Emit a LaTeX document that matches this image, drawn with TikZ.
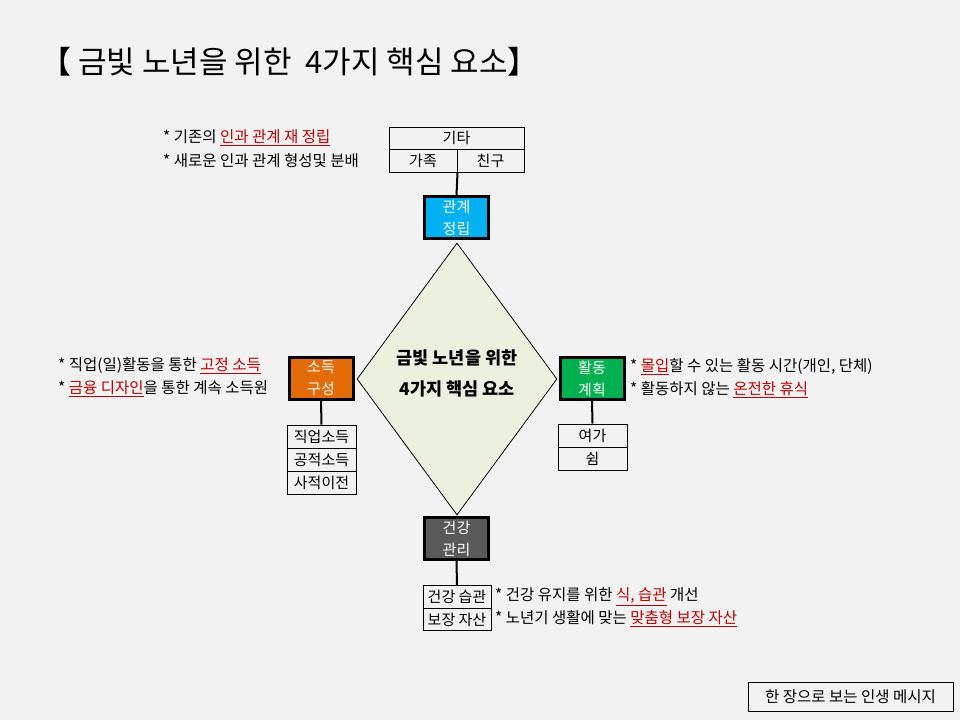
\documentclass[tikz,border=0pt]{standalone}
\usepackage{fontspec}
\setmainfont{Noto Sans CJK KR}
\usetikzlibrary{shapes.geometric}
\definecolor{bgcol}{HTML}{F2F2F2}
\definecolor{relcol}{HTML}{00B0F0}
\definecolor{inccol}{HTML}{E36C09}
\definecolor{actcol}{HTML}{00B050}
\definecolor{hlthcol}{HTML}{595959}
\definecolor{corecol}{HTML}{EBF1DE}
\definecolor{redtxt}{HTML}{C00000}
\newcommand{\redu}[1]{\textcolor{redtxt}{\underline{#1}}}
\tikzset{
  keybox/.style={draw, line width=3pt, minimum width=64pt, minimum height=42pt, inner sep=0pt,
    text=white, align=center, font=\fontsize{15}{22}\selectfont},
  cell/.style={draw, line width=1pt, minimum height=23pt, inner sep=0pt, font=\fontsize{15}{16}\selectfont},
  note/.style={anchor=west, inner sep=0pt, font=\fontsize{15.5}{16}\selectfont},
  link/.style={line width=2pt}
}
\begin{document}
\begin{tikzpicture}[x=1pt, y=-1pt]
    \fill[bgcol] (0,0) rectangle (960,720);
    \useasboundingbox (0,0) rectangle (960,720);
    \node[anchor=west, inner sep=0pt, font=\fontsize{31}{34}\selectfont] (title) at (40,62) {【 금빛 노년을 위한~~4가지 핵심 요소】};

    \node[shape=diamond, draw, line width=0.8pt, fill=corecol, minimum width=200pt, minimum height=272pt,
      inner sep=0pt] (core) at (457,379) {};
    \node[align=center, inner sep=0pt, font=\fontsize{17.5}{31}\selectfont\bfseries] (coretext) at (457,373) {금빛 노년을 위한\\4가지 핵심 요소};

    \node[keybox, fill=relcol] (rel) at (456.5,217.5) {관계\\정립};
    \node[keybox, fill=inccol] (income) at (321,378.5) {소득\\구성};
    \node[keybox, fill=actcol] (plan) at (592,378.5) {활동\\계획};
    \node[keybox, fill=hlthcol] (health) at (456.5,538.5) {건강\\관리};

    \node[cell, minimum width=135pt, minimum height=22pt] (etc) at (456.5,138) {기타};
    \node[cell, minimum width=68pt] (family) at (423,160.5) {가족};
    \node[cell, minimum width=67pt] (friend) at (490.5,160.5) {친구};

    \node[cell, minimum width=69pt] (job) at (321.5,436.5) {직업소득};
    \node[cell, minimum width=69pt] (public) at (321.5,459.5) {공적소득};
    \node[cell, minimum width=69pt] (private) at (321.5,482.5) {사적이전};

    \node[cell, minimum width=69pt] (leisure) at (592.5,435.5) {여가};
    \node[cell, minimum width=69pt] (rest) at (592.5,458.5) {쉼};

    \node[cell, minimum width=68pt, minimum height=22.5pt] (habit) at (457,597) {건강 습관};
    \node[cell, minimum width=68pt, minimum height=22.5pt] (asset) at (457,619.5) {보장 자산};

    \draw[link] (family.south east) -- (rel.north);
    \draw[link] (income.south) -- (job.north);
    \draw[link] (plan.south) -- (leisure.north);
    \draw[link] (health.south) -- (habit.north);

    \node[note] (n1) at (163,138) {* 기존의 \redu{인과 관계 재 정립}};
    \node[note] (n2) at (163,161) {* 새로운 인과 관계 형성및 분배};
    \node[note] (n3) at (58,366) {* 직업(일)활동을 통한 \redu{고정 소득}};
    \node[note] (n4) at (58,389) {* \redu{금융 디자인}을 통한 계속 소득원};
    \node[note] (n5) at (630,367) {* \redu{몰입}할 수 있는 활동 시간(개인, 단체)};
    \node[note] (n6) at (630,390) {* 활동하지 않는 \redu{온전한 휴식}};
    \node[note] (n7) at (495,597) {* 건강 유지를 위한 \redu{식, 습관} 개선};
    \node[note] (n8) at (495,619) {* 노년기 생활에 맞는 \redu{맞춤형 보장 자산}};

    \node[draw, line width=1pt, minimum width=205pt, minimum height=29pt, inner sep=0pt,
      font=\fontsize{15.5}{17}\selectfont] (msg) at (850.5,696.5) {한 장으로 보는 인생 메시지};
\end{tikzpicture}
\end{document}
